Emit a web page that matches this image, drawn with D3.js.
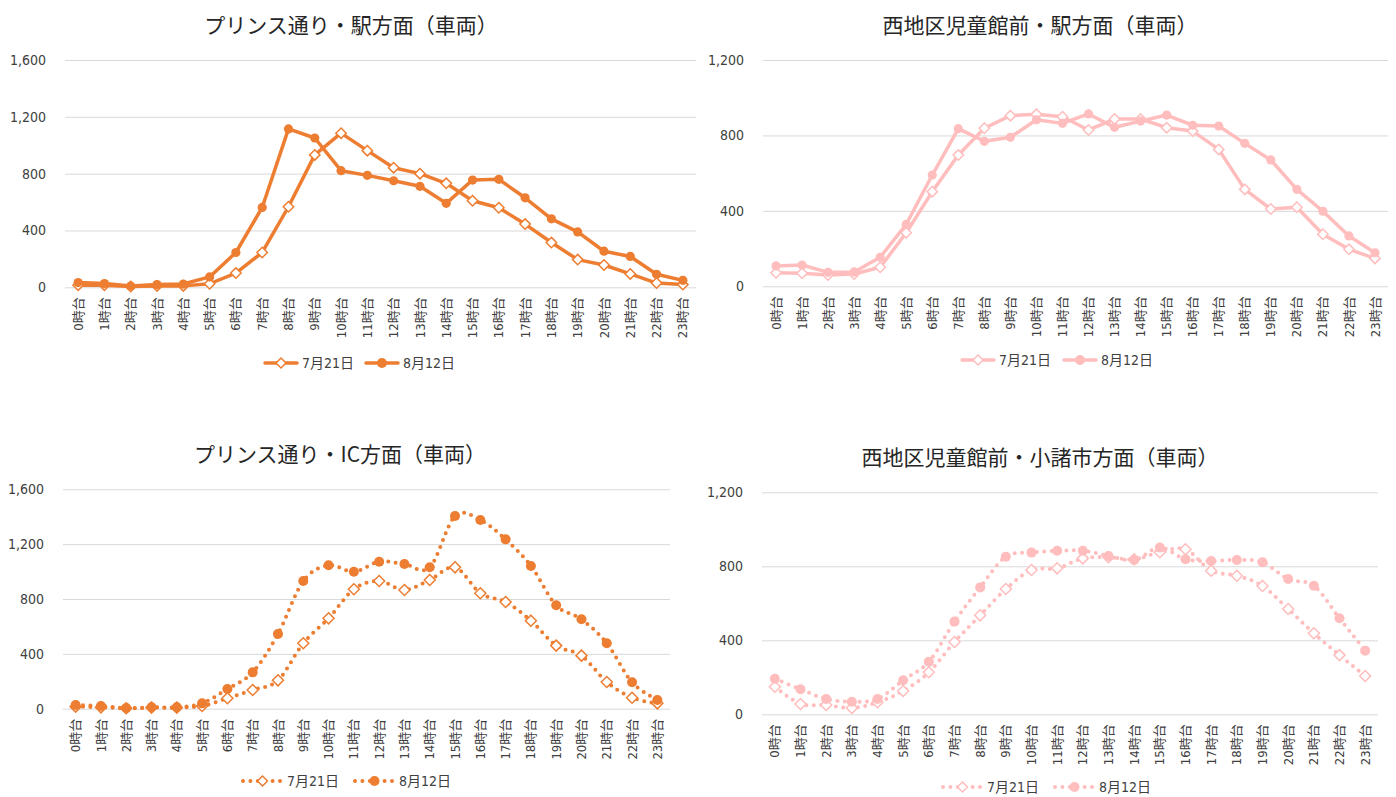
<!DOCTYPE html>
<html>
<head>
<meta charset="utf-8">
<script src="https://cdn.jsdelivr.net/npm/d3@7"></script>
<style>
  body { margin: 0; background: #fff; }
  .title { font-family: "Noto Sans CJK JP", "Noto Sans", sans-serif; font-size: 21px; fill: #262626; }
  .tick text, .lg { font-family: "Liberation Sans Narrow", "DejaVu Sans Condensed", "Noto Sans CJK JP", sans-serif; fill: #404040; }
</style>
</head>
<body>
<svg id="chart" width="1396" height="797"></svg>
<script>
// hour labels on the x axis
const hours = ['0時台','1時台','2時台','3時台','4時台','5時台','6時台','7時台','8時台','9時台','10時台','11時台',
  '12時台','13時台','14時台','15時台','16時台','17時台','18時台','19時台','20時台','21時台','22時台','23時台'];
const dates = ['7月21日', '8月12日'];

// プリンス通り・駅方面
const princeEki0721 = [15,15,5,10,10,25,100,245,567,932,1085,962,842,800,732,609,560,445,315,195,157,94,30,19];
const princeEki0812 = [33,26,9,19,23,73,245,562,1115,1051,821,788,750,711,591,755,760,630,482,390,254,217,92,49];
// 西地区児童館前・駅方面
const nishiEki0721 = [72,69,60,65,101,284,502,696,838,905,912,899,829,887,887,841,823,726,514,410,419,276,196,148];
const nishiEki0812 = [108,113,74,76,154,329,590,836,769,790,883,864,914,843,876,908,854,850,758,670,514,398,267,178];
// プリンス通り・IC方面
const princeIC0721 = [15,10,3,8,8,20,76,136,207,477,659,871,931,866,939,1031,842,778,642,460,387,195,80,39];
const princeIC0812 = [27,20,5,10,10,39,144,265,545,931,1046,999,1072,1055,1031,1405,1376,1235,1041,754,652,477,193,64];
// 西地区児童館前・小諸市方面
const nishiKomoro0721 = [149,56,50,34,65,126,227,391,535,677,780,789,843,849,838,876,892,776,749,694,569,438,320,207];
const nishiKomoro0812 = [192,135,83,68,83,184,284,501,686,852,874,884,884,856,834,901,838,829,834,822,731,695,519,344];

const orange = '#ed7d31', pink = '#ffbdbd';
const svg = d3.select('#chart');
const diamond = r => `M0,${-r}L${r},0L0,${r}L${-r},0Z`;

function drawChart(c) {
  const g = svg.append('g');
  const x = d3.scaleBand().domain(hours).range([c.left, c.right]);
  const y = d3.scaleLinear().domain([0, c.ymax]).range([c.bottom, c.top]);
  const cx = h => x(h) + x.bandwidth() / 2;

  g.append('text').attr('class', 'title')
    .attr('x', c.titleX).attr('y', c.titleY).attr('text-anchor', 'middle').text(c.title);

  // gridlines + y labels
  const yAxis = g.append('g').attr('transform', `translate(${c.left},0)`)
    .call(d3.axisLeft(y).tickValues(d3.range(0, c.ymax + 1, 400)).tickSize(c.left - c.right)
      .tickPadding(19).tickFormat(d3.format(',')));
  yAxis.select('.domain').remove();
  yAxis.selectAll('.tick line').attr('stroke', '#d9d9d9');
  yAxis.selectAll('.tick text').attr('font-size', 14);

  // x labels, rotated
  const xAxis = g.append('g').attr('transform', `translate(0,${c.bottom})`)
    .call(d3.axisBottom(x).tickSize(0).tickPadding(0));
  xAxis.select('.domain').remove();
  xAxis.selectAll('.tick text')
    .attr('font-size', 13).attr('text-anchor', 'end').attr('dy', '0.35em')
    .attr('transform', 'translate(0,10) rotate(-90)').attr('x', 0).attr('y', 0);

  const line = d3.line().x((d, i) => cx(hours[i])).y(d => y(d));
  if (c.smooth) line.curve(d3.curveCardinal.tension(0));
  const dash = c.smooth ? '0 7.4' : null;

  c.series.forEach((s, k) => {
    g.append('path').datum(s).attr('fill', 'none').attr('stroke', c.color)
      .attr('stroke-width', c.smooth ? 4 : 3.5).attr('stroke-linecap', 'round').attr('stroke-linejoin', 'round')
      .attr('stroke-dasharray', dash).attr('d', line);
    const m = g.append('g').selectAll('path').data(s).join('path')
      .attr('transform', (d, i) => `translate(${cx(hours[i])},${y(d)})`);
    if (k === 0) {
      m.attr('d', diamond(c.smooth ? 5.5 : 5.2)).attr('fill', '#fff').attr('stroke', c.color).attr('stroke-width', 1.5);
    } else {
      m.attr('d', d3.symbol(d3.symbolCircle, Math.PI * (c.smooth ? 5 : 4.6) ** 2)()).attr('fill', c.color);
    }
  });

  // legend
  const lg = g.append('g').attr('transform', `translate(0,${c.legendY})`);
  dates.forEach((d, k) => {
    const x0 = c.legendX[k];
    lg.append('line').attr('x1', x0).attr('x2', x0 + c.legendLen).attr('stroke', c.color)
      .attr('stroke-width', c.smooth ? 4 : 3.5).attr('stroke-linecap', 'round').attr('stroke-dasharray', dash);
    const mk = lg.append('path').attr('transform', `translate(${x0 + c.legendLen / 2},0)`);
    if (k === 0) mk.attr('d', diamond(5)).attr('fill', '#fff').attr('stroke', c.color).attr('stroke-width', 1.5);
    else mk.attr('d', d3.symbol(d3.symbolCircle, Math.PI * 25)()).attr('fill', c.color);
    lg.append('text').attr('class', 'lg').attr('x', x0 + c.legendLen + 5).attr('dy', '0.35em')
      .attr('font-size', 14).text(d);
  });
}

drawChart({ title: 'プリンス通り・駅方面（車両）', titleX: 351, titleY: 33,
  left: 65, right: 696, top: 60, bottom: 287.3, ymax: 1600, color: orange, smooth: false,
  series: [princeEki0721, princeEki0812], legendY: 363, legendX: [265, 366], legendLen: 32 });
drawChart({ title: '西地区児童館前・駅方面（車両）', titleX: 1040, titleY: 33,
  left: 763, right: 1388, top: 60, bottom: 286.3, ymax: 1200, color: pink, smooth: false,
  series: [nishiEki0721, nishiEki0812], legendY: 360, legendX: [962, 1064], legendLen: 32 });
drawChart({ title: 'プリンス通り・IC方面（車両）', titleX: 340, titleY: 462,
  left: 63, right: 670, top: 489.3, bottom: 708.7, ymax: 1600, color: orange, smooth: true,
  series: [princeIC0721, princeIC0812], legendY: 781, legendX: [243, 355], legendLen: 39 });
drawChart({ title: '西地区児童館前・小諸市方面（車両）', titleX: 1040, titleY: 465,
  left: 762, right: 1378, top: 492.3, bottom: 714.3, ymax: 1200, color: pink, smooth: true,
  series: [nishiKomoro0721, nishiKomoro0812], legendY: 787, legendX: [943, 1055], legendLen: 39 });
</script>
</body>
</html>
